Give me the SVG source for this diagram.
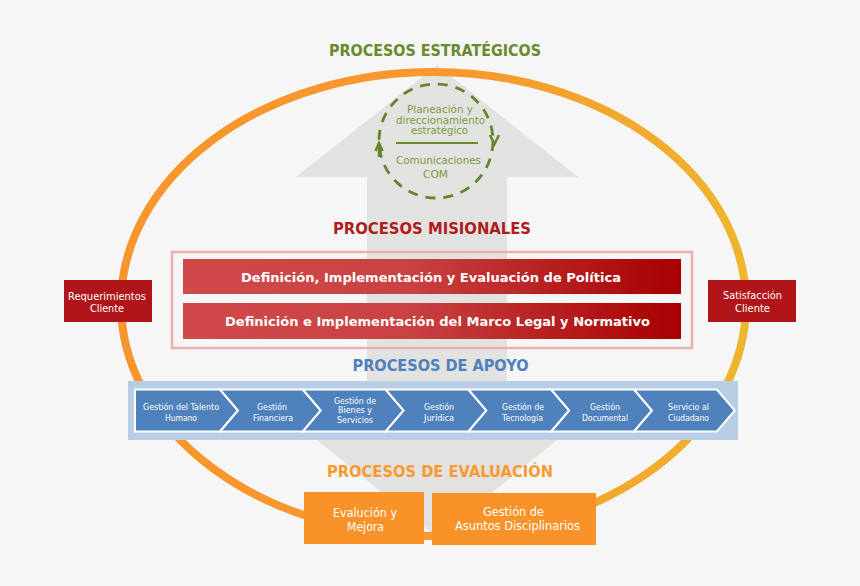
<svg xmlns="http://www.w3.org/2000/svg" width="860" height="586" viewBox="0 0 860 586">
<defs>
<linearGradient id="ring" x1="0" y1="0" x2="1" y2="0">
<stop offset="0" stop-color="#f8962e"/>
<stop offset="0.55" stop-color="#f8982e"/>
<stop offset="1" stop-color="#eeb52f"/>
</linearGradient>
<linearGradient id="redbar" x1="0" y1="0" x2="1" y2="0">
<stop offset="0" stop-color="#d04a4a"/>
<stop offset="0.45" stop-color="#c94242"/>
<stop offset="1" stop-color="#a70000"/>
</linearGradient>
<style>
.t{font-family:"DejaVu Sans","Liberation Sans",sans-serif;text-anchor:middle}
.h{font-weight:bold;font-size:16px}
.w{fill:#ffffff}
.cir{fill:#7a9c3c;font-size:10px}
.cir2{fill:#7a9c3c;font-size:11px}
.chev{fill:#4f81bd;stroke:#ffffff;stroke-width:2}
.ct{font-size:9px;fill:#ffffff}
.side{fill:#b01519}
.sidet{font-size:10.5px;fill:#ffffff}
.ev{fill:#fa922a}
.evt{font-size:11.5px;fill:#ffffff}
.mis{font-weight:bold;font-size:13px;fill:#ffffff}
</style>
</defs>
<rect width="860" height="586" fill="#f6f6f6"/>

<g id="big-arrow" fill="#e2e2e0">
<path d="M437,65 L578,177 L507,177 L507,440 L367,440 L367,177 L296,177 Z"/>
<path d="M317,440 L557,440 L437,537 Z"/>
</g>

<g id="cycle-ring">
<ellipse cx="433.5" cy="304" rx="312.5" ry="232" fill="none" stroke="url(#ring)" stroke-width="8"/>
</g>

<g id="titles">
<text class="t h" x="435" y="56" fill="#6a8a2f" textLength="212" lengthAdjust="spacingAndGlyphs">PROCESOS ESTRATÉGICOS</text>
<text class="t h" x="432" y="234" fill="#b01c1c" textLength="198" lengthAdjust="spacingAndGlyphs">PROCESOS MISIONALES</text>
<text class="t h" x="440.5" y="371" fill="#4f81bd" textLength="176" lengthAdjust="spacingAndGlyphs">PROCESOS DE APOYO</text>
<text class="t h" x="440" y="477" fill="#fb9a30" textLength="226" lengthAdjust="spacingAndGlyphs">PROCESOS DE EVALUACIÓN</text>
</g>

<g id="estrategicos">
<circle cx="436" cy="141" r="57" fill="none" stroke="#64842c" stroke-width="2.8" stroke-dasharray="10 8"/>
<polyline points="490,135 494.5,144 499,135" fill="none" stroke="#64842c" stroke-width="2.5"/>
<polyline points="375.5,151 379,143 382.5,151" fill="none" stroke="#64842c" stroke-width="2.5"/>
<line x1="379" y1="144" x2="379" y2="157" stroke="#64842c" stroke-width="2.5"/>
<text class="t cir" x="440" y="112.5" textLength="66" lengthAdjust="spacingAndGlyphs">Planeación y</text>
<text class="t cir" x="440.5" y="123.5" textLength="89" lengthAdjust="spacingAndGlyphs">direccionamiento</text>
<text class="t cir" x="439.5" y="134" textLength="57" lengthAdjust="spacingAndGlyphs">estratégico</text>
<line x1="396" y1="143" x2="478" y2="143" stroke="#6a8a2f" stroke-width="2"/>
<text class="t cir2" x="438.5" y="164" textLength="85" lengthAdjust="spacingAndGlyphs">Comunicaciones</text>
<text class="t cir2" x="435.5" y="178" textLength="25" lengthAdjust="spacingAndGlyphs">COM</text>
</g>

<g id="misionales">
<rect x="172" y="252" width="520" height="96" fill="none" stroke="#e8b2b2" stroke-width="2.5"/>
<rect x="183" y="259" width="498" height="35" fill="url(#redbar)"/>
<text class="t mis" x="431" y="282" textLength="380" lengthAdjust="spacingAndGlyphs">Definición, Implementación y Evaluación de Política</text>
<rect x="183" y="303" width="498" height="36" fill="url(#redbar)"/>
<text class="t mis" x="437.5" y="326" textLength="425" lengthAdjust="spacingAndGlyphs">Definición e Implementación del Marco Legal y Normativo</text>
</g>

<g id="requerimientos">
<rect class="side" x="64" y="280" width="88" height="42"/>
<text class="t sidet" x="107" y="300" textLength="78" lengthAdjust="spacingAndGlyphs">Requerimientos</text>
<text class="t sidet" x="107" y="312" textLength="34" lengthAdjust="spacingAndGlyphs">Cliente</text>
</g>

<g id="satisfaccion">
<rect class="side" x="708" y="280" width="88" height="42"/>
<text class="t sidet" x="752.5" y="299" textLength="59" lengthAdjust="spacingAndGlyphs">Satisfacción</text>
<text class="t sidet" x="752.5" y="312" textLength="35" lengthAdjust="spacingAndGlyphs">Cliente</text>
</g>

<g id="apoyo">
<rect x="128" y="381" width="610" height="59" fill="#b9cde5"/>
<g id="talento">
<polygon class="chev" points="135,389.5 220,389.5 238,410.5 220,431.5 135,431.5"/>
<text class="t ct" x="181" y="410" textLength="76" lengthAdjust="spacingAndGlyphs">Gestión del Talento</text>
<text class="t ct" x="181" y="420.5" textLength="32" lengthAdjust="spacingAndGlyphs">Humano</text>
</g>
<g id="financiera">
<polygon class="chev" points="220,389.5 302.8,389.5 320.8,410.5 302.8,431.5 220,431.5 238,410.5"/>
<text class="t ct" x="272" y="410" textLength="30" lengthAdjust="spacingAndGlyphs">Gestión</text>
<text class="t ct" x="273" y="420.5" textLength="40" lengthAdjust="spacingAndGlyphs">Financiera</text>
</g>
<g id="bienes">
<polygon class="chev" points="302.8,389.5 385.6,389.5 403.6,410.5 385.6,431.5 302.8,431.5 320.8,410.5"/>
<text class="t ct" x="355" y="403.5" textLength="42" lengthAdjust="spacingAndGlyphs">Gestión de</text>
<text class="t ct" x="355" y="413" textLength="34" lengthAdjust="spacingAndGlyphs">Bienes y</text>
<text class="t ct" x="355" y="422.5" textLength="36" lengthAdjust="spacingAndGlyphs">Servicios</text>
</g>
<g id="juridica">
<polygon class="chev" points="385.6,389.5 468.4,389.5 486.4,410.5 468.4,431.5 385.6,431.5 403.6,410.5"/>
<text class="t ct" x="439" y="410" textLength="30" lengthAdjust="spacingAndGlyphs">Gestión</text>
<text class="t ct" x="439" y="420.5" textLength="30" lengthAdjust="spacingAndGlyphs">Jurídica</text>
</g>
<g id="tecnologia">
<polygon class="chev" points="468.4,389.5 551.2,389.5 569.2,410.5 551.2,431.5 468.4,431.5 486.4,410.5"/>
<text class="t ct" x="523" y="410" textLength="42" lengthAdjust="spacingAndGlyphs">Gestión de</text>
<text class="t ct" x="522.5" y="420.5" textLength="41" lengthAdjust="spacingAndGlyphs">Tecnología</text>
</g>
<g id="documental">
<polygon class="chev" points="551.2,389.5 634,389.5 652,410.5 634,431.5 551.2,431.5 569.2,410.5"/>
<text class="t ct" x="605" y="410" textLength="30" lengthAdjust="spacingAndGlyphs">Gestión</text>
<text class="t ct" x="605" y="420.5" textLength="46" lengthAdjust="spacingAndGlyphs">Documental</text>
</g>
<g id="ciudadano">
<polygon class="chev" points="634,389.5 716.8,389.5 734.8,410.5 716.8,431.5 634,431.5 652,410.5"/>
<text class="t ct" x="688.5" y="410" textLength="41" lengthAdjust="spacingAndGlyphs">Servicio al</text>
<text class="t ct" x="688.5" y="420.5" textLength="41" lengthAdjust="spacingAndGlyphs">Ciudadano</text>
</g>
</g>

<g id="evaluacion-mejora">
<rect class="ev" x="304" y="492" width="120" height="52"/>
<text class="t evt" x="365" y="517" textLength="64" lengthAdjust="spacingAndGlyphs">Evalución y</text>
<text class="t evt" x="365.5" y="531" textLength="37" lengthAdjust="spacingAndGlyphs">Mejora</text>
</g>
<g id="asuntos-disciplinarios">
<rect class="ev" x="432" y="493" width="164" height="52"/>
<text class="t evt" x="513.5" y="516" textLength="61" lengthAdjust="spacingAndGlyphs">Gestión de</text>
<text class="t evt" x="517.5" y="530" textLength="125" lengthAdjust="spacingAndGlyphs">Asuntos  Disciplinarios</text>
</g>
<g id="connectors"></g>
</svg>
